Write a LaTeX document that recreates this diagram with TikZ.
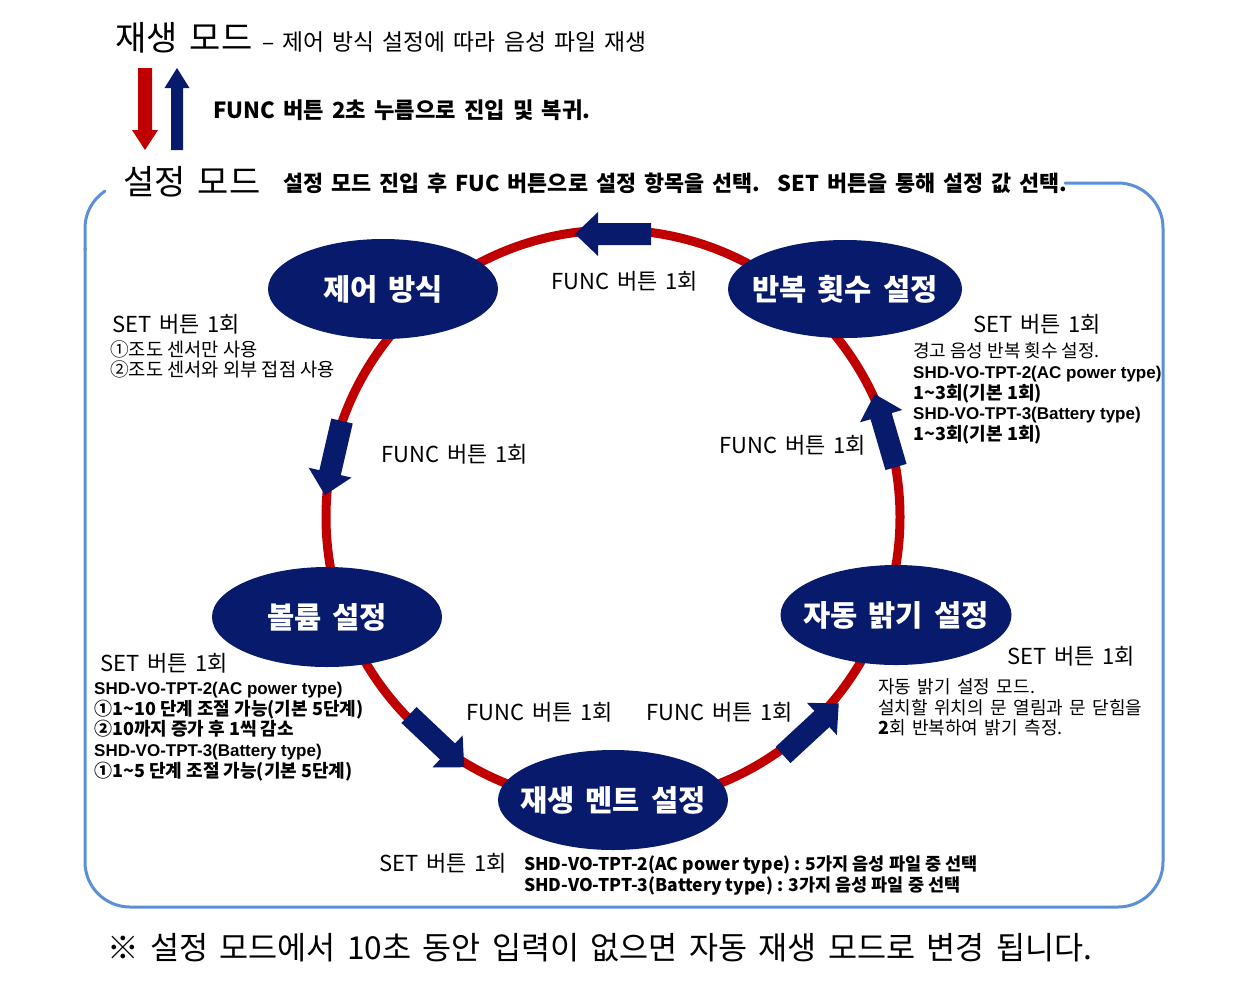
\documentclass[tikz,border=0pt]{standalone}
\usepackage{fontspec}
\setmainfont{Noto Sans CJK KR}
\newfontfamily\widefont{Noto Sans CJK KR}[WordSpace=1.6]
\newfontfamily\arial{Liberation Sans}[Scale=0.944]
\usetikzlibrary{shapes.geometric}
\definecolor{navy}{RGB}{8,26,108}
\definecolor{ringred}{RGB}{192,0,0}
\definecolor{framebl}{RGB}{91,143,214}
\newcommand\myBarrow[2]{\fill[navy,shift={#1},rotate=#2] (0,-11) -- (53,-11) -- (53,-22) -- (76,0) -- (53,22) -- (53,11) -- (0,11) -- cycle;}
\newcommand\zw[1]{\makebox[0pt][c]{#1}}
\begin{document}
\begin{tikzpicture}[x=1pt,y=-1pt,
  stage/.style={ellipse, fill=navy, text=white, minimum width=230pt, minimum height=100pt, inner sep=0pt, font=\widefont\fontsize{29.6}{34}\selectfont\bfseries},
  head/.style={anchor=west, inner sep=0pt, font=\widefont\fontsize{34}{38}\selectfont},
  func/.style={anchor=west, inner sep=0pt, font=\widefont\fontsize{22}{26}\selectfont},
  info/.style={anchor=west, inner sep=0pt, align=left, font=\fontsize{18}{20.75}\selectfont},
  infob/.style={info, font=\fontsize{18}{20.75}\selectfont\bfseries},
  framel/.style={framebl, line width=3pt, line cap=round},
]
\fill[white] (0,0) rectangle (1256,997);
\useasboundingbox (0,0) rectangle (1256,997);

% frame
\draw[framel] (105,191) .. controls (92.6,199.4) and (85,213) .. (85,228) -- (85,250);
\draw[framel, rounded corners=45pt] (85,248) -- (85,907) -- (1163,907) -- (1163,183) -- (1065,183);

% ring
\draw[ringred, line width=9pt] (613,517) circle[radius=287pt];

% ring arrows
\myBarrow{(651,234)}{180}
\myBarrow{(342,421)}{257}
\myBarrow{(409,715)}{-43.4}
\myBarrow{(783,755)}{42.8}
\myBarrow{(896,467)}{106.3}

% mode arrows
\fill[ringred] (138,68) -- (152,68) -- (152,130) -- (158,130) -- (145,150) -- (132,130) -- (138,130) -- cycle;
\fill[navy] (177,68) -- (189.5,88) -- (183,88) -- (183,150) -- (171,150) -- (171,88) -- (164.5,88) -- cycle;

% stages
\node[stage] (ctrl) at (383,289) {\zw{제어 방식}};
\node[stage, minimum width=234pt, minimum height=98pt] (rep) at (845,289) {\zw{반복 횟수 설정}};
\node[stage] (vol) at (327,617) {\zw{볼륨 설정}};
\node[stage, minimum width=231pt] (auto) at (896,615) {\zw{자동 밝기 설정}};
\node[stage] (ment) at (613,800) {\zw{재생 멘트 설정}};

% headings
\node[head] (play) at (115,38) {재생 모드};
\node[func, font=\widefont\fontsize{22.8}{26}\selectfont] (playdesc) at (262,42) {– 제어 방식 설정에 따라 음성 파일 재생};
\node[func, font=\widefont\fontsize{22.2}{26}\selectfont\bfseries] (enter) at (213,110) {FUNC 버튼 2초 누름으로 진입 및 복귀.};
\node[head] (setm) at (123,182) {설정 모드};
\node[func, font=\widefont\fontsize{21.8}{26}\selectfont\bfseries] (setdesc) at (283,183) {설정 모드 진입 후 FUC 버튼으로 설정 항목을 선택.~ SET 버튼을 통해 설정 값 선택.};

% FUNC labels
\node[func] (f1) at (551,281) {FUNC 버튼 1회};
\node[func] (f2) at (381,454) {FUNC 버튼 1회};
\node[func] (f3) at (719,445) {FUNC 버튼 1회};
\node[func] (f4) at (466,712) {FUNC 버튼 1회};
\node[func] (f5) at (646,712) {FUNC 버튼 1회};

% SET labels
\node[func] (s1) at (112,324) {SET 버튼 1회};
\node[func] (s2) at (973,324) {SET 버튼 1회};
\node[func] (s3) at (100,663) {SET 버튼 1회};
\node[func] (s4) at (1007,656) {SET 버튼 1회};
\node[func] (s5) at (379,863) {SET 버튼 1회};

% info blocks
\node[info, font=\fontsize{18.7}{20}\selectfont] (i1) at (110,359) {①조도 센서만 사용\\②조도 센서와 외부 접점 사용};
\node[infob] (i2) at (913,393.5) {\mdseries 경고 음성 반복 횟수 설정.\\{\arial\bfseries SHD-VO-TPT-2(AC power type)}\\1\textasciitilde 3회(기본 1회)\\{\arial\bfseries SHD-VO-TPT-3(Battery type)}\\1\textasciitilde 3회(기본 1회)};
\node[infob] (i3) at (94,731.5) {{\arial\bfseries SHD-VO-TPT-2(AC power type)}\\①1\textasciitilde 10 단계 조절 가능(기본 5단계)\\②10까지 증가 후 1씩 감소\\{\arial\bfseries SHD-VO-TPT-3(Battery type)}\\①1\textasciitilde 5 단계 조절 가능(기본 5단계)};
\node[info, font=\widefont\fontsize{18}{20.5}\selectfont] (i4) at (878,707.5) {자동 밝기 설정 모드.\\설치할 위치의 문 열림과 문 닫힘을\\\textbf{2}회 반복하여 밝기 측정.};
\node[infob, font=\fontsize{17.5}{21}\selectfont\bfseries] (i5) at (524,875.5) {SHD-VO-TPT-2(AC power type) : 5가지 음성 파일 중 선택\\SHD-VO-TPT-3(Battery type) : 3가지 음성 파일 중 선택};

% footer
\node[head, font=\widefont\fontsize{31.6}{36}\selectfont] (note) at (107,948) {※ 설정 모드에서 10초 동안 입력이 없으면 자동 재생 모드로 변경 됩니다.};
\end{tikzpicture}
\end{document}
